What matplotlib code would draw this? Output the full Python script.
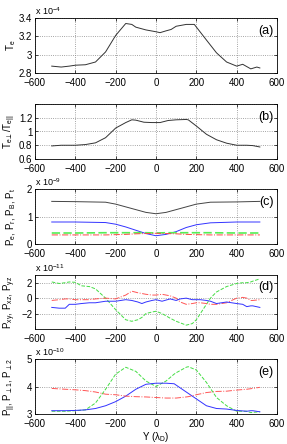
import matplotlib
matplotlib.use("Agg")
import matplotlib.pyplot as plt
import numpy as np

plt.rcParams['font.family'] = ['Liberation Sans', 'DejaVu Sans']
plt.rcParams['mathtext.fontset'] = 'custom'
plt.rcParams['mathtext.rm'] = 'Liberation Sans'
plt.rcParams['mathtext.it'] = 'Liberation Sans'
plt.rcParams['font.size'] = 7

# ---- data (values in units of the axis multiplier) ----
ya = [-517, -470, -430, -400, -350, -300, -250, -200, -150, -120, -100, -50, 0, 20, 50, 75, 100, 150, 190, 250, 300, 350, 400, 430, 470, 500, 515]
Te = [2.875, 2.865, 2.875, 2.885, 2.89, 2.92, 3.03, 3.21, 3.34, 3.33, 3.30, 3.27, 3.25, 3.24, 3.26, 3.275, 3.31, 3.33, 3.33, 3.16, 3.02, 2.92, 2.875, 2.895, 2.845, 2.865, 2.855]

yb = [-517, -470, -400, -350, -300, -250, -200, -150, -120, -100, -60, -20, 20, 60, 100, 150, 160, 200, 250, 300, 350, 400, 450, 480, 515]
Tratio = [0.79, 0.80, 0.80, 0.81, 0.835, 0.91, 1.05, 1.13, 1.17, 1.165, 1.135, 1.13, 1.13, 1.16, 1.17, 1.175, 1.17, 1.08, 0.96, 0.88, 0.83, 0.80, 0.80, 0.795, 0.775]

yc = [-517, -400, -250, -200, -150, -100, -50, 0, 50, 100, 150, 200, 270, 400, 515]
Pe = [1.55, 1.54, 1.52, 1.45, 1.35, 1.25, 1.15, 1.10, 1.15, 1.25, 1.35, 1.45, 1.52, 1.53, 1.55]
Pb = [0.80, 0.80, 0.78, 0.72, 0.62, 0.50, 0.38, 0.30, 0.35, 0.45, 0.60, 0.70, 0.77, 0.80, 0.80]
Pt = [0.40, 0.40, 0.41, 0.41, 0.41, 0.41, 0.41, 0.40, 0.41, 0.41, 0.41, 0.41, 0.41, 0.40, 0.40]
Pr = [0.33, 0.33, 0.33, 0.34, 0.35, 0.37, 0.38, 0.39, 0.38, 0.37, 0.35, 0.34, 0.33, 0.33, 0.33]

yd = [-517, -480, -450, -430, -400, -370, -330, -300, -250, -200, -150, -120, -90, -70, -50, -20, 0, 30, 70, 100, 120, 150, 180, 200, 220, 250, 270, 300, 350, 400, 430, 450, 470, 480, 515]
Pyz = [2.1, 1.9, 2.0, 2.1, 2.05, 1.6, 1.5, 1.2, 0.0, -1.5, -2.8, -3.0, -2.8, -2.5, -2.0, -1.8, -1.7, -2.0, -2.6, -3.0, -3.2, -3.5, -3.3, -2.8, -2.0, -0.8, 0.0, 0.8, 1.5, 1.9, 2.0, 2.0, 2.1, 2.2, 2.5]
Pxz = [-0.3, -0.2, -0.1, -0.1, -0.2, -0.2, -0.2, -0.1, 0.0, -0.1, 0.4, 0.9, 0.7, 0.6, 0.5, 0.4, 0.4, 0.5, 0.3, 0.0, -0.5, -0.8, -0.7, -0.6, -0.6, -0.7, -0.8, -0.8, -0.6, 0.0, 0.1, 0.0, -0.3, -0.3, -0.2]
Pxy = [-1.2, -1.3, -1.3, -0.8, -0.8, -0.7, -0.6, -0.6, -0.4, -0.4, -0.2, -0.3, -0.5, -0.7, -0.5, -0.3, -0.2, -0.4, -0.1, -0.3, -0.1, 0.0, -0.2, -0.2, -0.2, -0.3, -0.4, -0.7, -0.5, -0.7, -0.8, -1.1, -1.0, -1.0, -1.2]

ye = [-517, -450, -400, -350, -300, -250, -200, -150, -100, -50, 0, 50, 90, 100, 150, 160, 200, 250, 300, 350, 400, 450, 470, 480, 515]
Ppar = [3.10, 3.10, 3.12, 3.15, 3.40, 3.90, 4.45, 4.70, 4.55, 4.20, 4.00, 4.20, 4.45, 4.50, 4.70, 4.72, 4.60, 4.15, 3.60, 3.30, 3.10, 3.10, 3.05, 3.06, 3.08]
Pperp1 = [3.12, 3.12, 3.13, 3.15, 3.20, 3.30, 3.45, 3.65, 3.90, 4.08, 4.12, 4.12, 4.10, 4.05, 3.80, 3.75, 3.55, 3.30, 3.20, 3.18, 3.13, 3.10, 3.12, 3.12, 3.08]
Pperp2 = [3.93, 3.90, 3.88, 3.85, 3.80, 3.72, 3.70, 3.65, 3.63, 3.62, 3.60, 3.58, 3.58, 3.58, 3.62, 3.63, 3.70, 3.78, 3.82, 3.83, 3.87, 3.90, 3.92, 3.93, 3.97]

fig = plt.figure(figsize=(2.87, 4.44), dpi=100)
W, H = 287.0, 444.0
left, right = 35, 277
panels = [(18, 73), (104, 159), (189, 244), (275, 329), (359, 414)]
axes = []
for top, bot in panels:
    ax = fig.add_axes([left / W, 1 - bot / H, (right - left) / W, (bot - top) / H])
    axes.append(ax)

def style(ax, ylim, yticks, label, ylabel, mult=None):
    ax.set_xlim(-600, 600)
    ax.set_xticks([-600, -400, -200, 0, 200, 400, 600])
    ax.set_ylim(*ylim)
    ax.set_yticks(yticks)
    ax.tick_params(direction='in', length=2.5, width=0.5, top=True, right=True, labelsize=7)
    ax.tick_params(axis='x', pad=3.5)
    ax.tick_params(axis='y', pad=2)
    ax.grid(True, linestyle=':', color='#888888', linewidth=0.6)
    for s in ax.spines.values():
        s.set_linewidth(0.6)
    ax.text(0.985, 0.88, label, transform=ax.transAxes, ha='right', va='top', fontsize=9)
    ax.set_ylabel(ylabel, fontsize=7)
    ax.yaxis.set_label_coords(-0.07, 0.5)
    if mult:
        ax.text(0.0, 1.02, mult, transform=ax.transAxes, ha='left', va='bottom', fontsize=6.5)

ax = axes[0]
ax.plot(ya, Te, color='#333333', lw=0.7)
style(ax, (2.8, 3.4), [2.8, 3.0, 3.2, 3.4], '(a)', r'T$_e$', r'x 10$^{-4}$')
ax.set_yticklabels(['2.8', '3', '3.2', '3.4'])

ax = axes[1]
ax.plot(yb, Tratio, color='#333333', lw=0.7)
style(ax, (0.6, 1.4), [0.6, 0.8, 1.0, 1.2, 1.4], '(b)', r'T$_{e\perp}$/T$_{e||}$')
ax.set_yticklabels(['0.6', '0.8', '1', '1.2', ''])

ax = axes[2]
ax.plot(yc, Pe, color='#444444', lw=0.7)
ax.plot(yc, Pb, color='#3333ff', lw=0.7)
ax.plot(yc, Pt, color='#55ee55', lw=1.2, ls=(0, (5, 2)))
ax.plot(yc, Pr, color='#ff4444', lw=0.7, ls='-.')
style(ax, (0, 2), [0, 1, 2], '(c)', r'P$_e$, P$_r$, P$_B$, P$_t$', r'x 10$^{-9}$')

ax = axes[3]
ax.plot(yd, Pyz, color='#44dd44', lw=0.7, ls='--')
ax.plot(yd, Pxz, color='#ff5555', lw=0.7, ls='-.')
ax.plot(yd, Pxy, color='#3333ff', lw=0.7)
style(ax, (-4, 3), [-2, 0, 2], '(d)', r'P$_{xy}$, P$_{xz}$, P$_{yz}$', r'x 10$^{-11}$')

ax = axes[4]
ax.plot(ye, Ppar, color='#44dd44', lw=0.7, ls='--')
ax.plot(ye, Pperp1, color='#3333ff', lw=0.7)
ax.plot(ye, Pperp2, color='#ff5555', lw=0.7, ls='-.')
style(ax, (3, 5), [3, 4, 5], '(e)', r'P$_{||}$, P$_{\perp1}$, P$_{\perp2}$', r'x 10$^{-10}$')
ax.set_xlabel(r'Y ($\lambda_D$)', fontsize=7, labelpad=1)

fig.savefig('out.png', dpi=100)
